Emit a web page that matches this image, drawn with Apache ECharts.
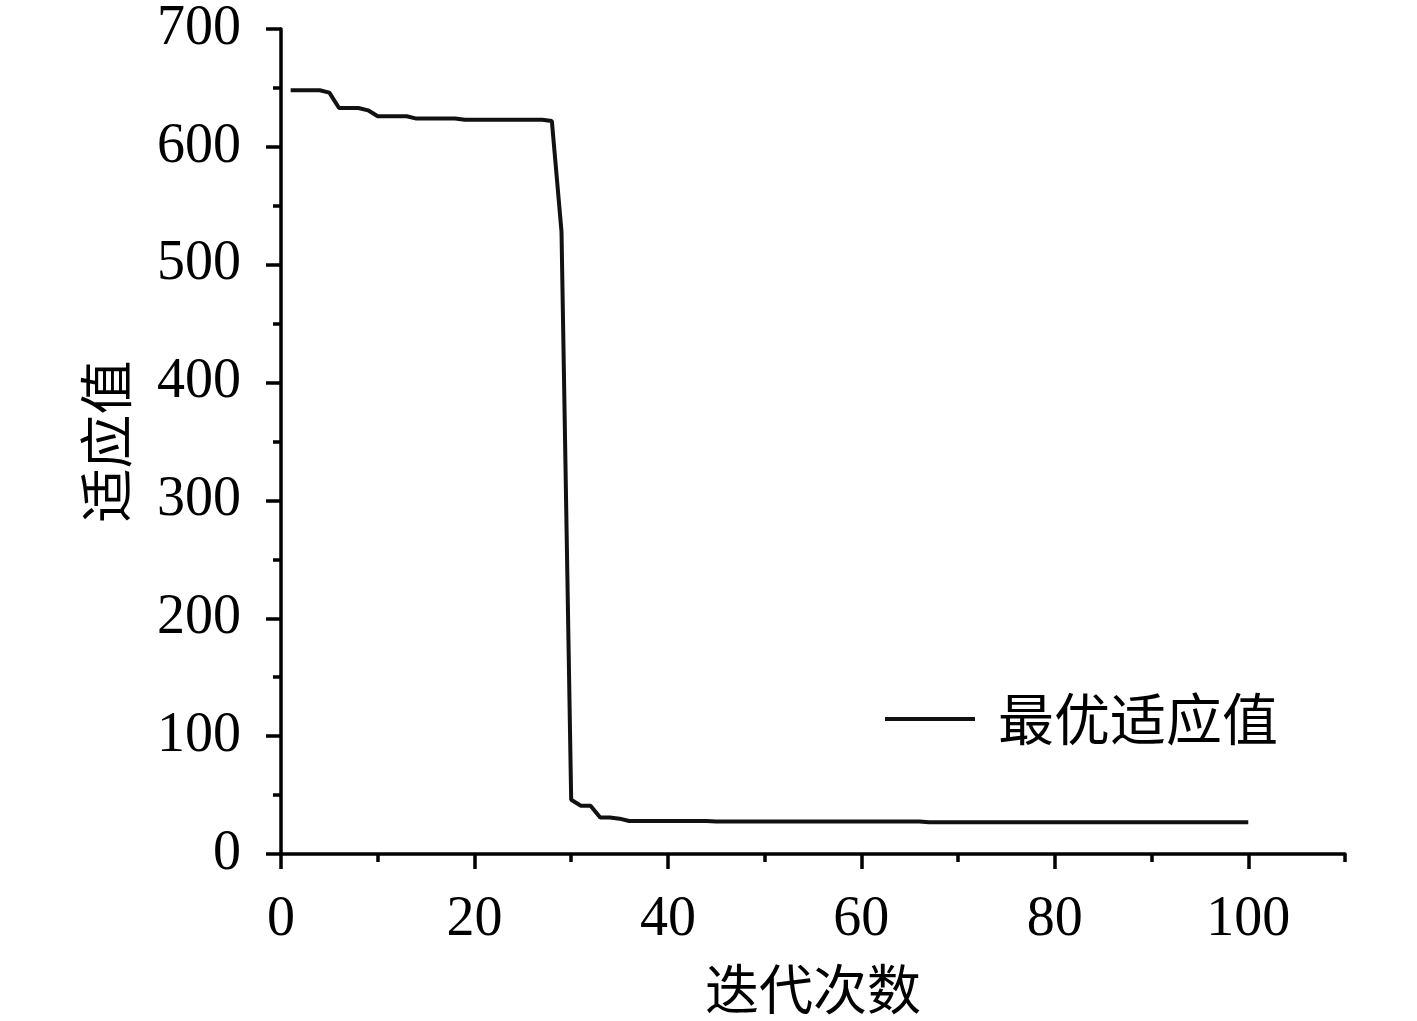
<!DOCTYPE html>
<html>
<head>
<meta charset="utf-8">
<script src="https://cdn.jsdelivr.net/npm/echarts@6/dist/echarts.min.js"></script>
<style>
  html, body { margin: 0; padding: 0; background: #fff; }
  #chart { width: 1417px; height: 1021px; }
</style>
</head>
<body>
<div id="chart"></div>
<script>
// 迭代次数 / 最优适应值
var iters = [];
for (var i = 1; i <= 100; i++) iters.push(i);
var best = [
  648, 648, 648, 648, 646, 633, 633, 633, 631, 626,
  626, 626, 626, 624, 624, 624, 624, 624, 623, 623,
  623, 623, 623, 623, 623, 623, 623, 622, 528, 46,
  41, 41, 31, 31, 30, 28, 28, 28, 28, 28,
  28, 28, 28, 28, 27.5, 27.5, 27.5, 27.5, 27.5, 27.5,
  27.5, 27.5, 27.5, 27.5, 27.5, 27.5, 27.5, 27.5, 27.5, 27.5,
  27.5, 27.5, 27.5, 27.5, 27.5, 27.5, 27, 27, 27, 27,
  27, 27, 27, 27, 27, 27, 27, 27, 27, 27,
  27, 27, 27, 27, 27, 27, 27, 27, 27, 27,
  27, 27, 27, 27, 27, 27, 27, 27, 27, 27
];
var xMajor = [0, 20, 40, 60, 80, 100];
var xMinor = [10, 30, 50, 70, 90, 110];
var yMajor = [0, 100, 200, 300, 400, 500, 600, 700];
var yMinor = [50, 150, 250, 350, 450, 550, 650];

var serif = "'Liberation Serif', 'Times New Roman', 'Noto Sans CJK SC', serif";
var cjk = "'Noto Sans CJK SC', serif";
var black = "#000";

var chart = echarts.init(document.getElementById("chart"));
var points = iters.map(function (x, k) { return [x, best[k]]; });

chart.setOption({
  animation: false,
  grid: { left: 281, right: 72, top: 29, bottom: 166, containLabel: false },
  legend: {
    data: [{ name: "最优适应值", icon: "rect" }],
    left: 880,
    top: 686,
    itemWidth: 90,
    itemHeight: 4,
    itemStyle: { color: "#111" },
    textStyle: { fontFamily: cjk, fontSize: 56, color: black, padding: [0, 0, 0, 18] }
  },
  xAxis: [
    {
      type: "value", min: 0, max: 110,
      name: "迭代次数", nameLocation: "middle", nameGap: 108,
      nameTextStyle: { fontFamily: cjk, fontSize: 54, color: black },
      axisLine: { show: true, lineStyle: { color: black, width: 3.5 } },
      axisTick: { show: true, customValues: xMajor, length: 15, lineStyle: { color: black, width: 3.5 } },
      axisLabel: { customValues: xMajor, fontFamily: serif, fontSize: 56, color: black, margin: 38 },
      splitLine: { show: false }
    },
    {
      type: "value", min: 0, max: 110, position: "bottom",
      axisLine: { show: false },
      axisTick: { show: true, customValues: xMinor, length: 8, lineStyle: { color: black, width: 3.5 } },
      axisLabel: { show: false },
      splitLine: { show: false }
    }
  ],
  yAxis: [
    {
      type: "value", min: 0, max: 700,
      name: "适应值", nameLocation: "middle", nameGap: 148, nameRotate: 90,
      nameTextStyle: { fontFamily: cjk, fontSize: 54, color: black },
      axisLine: { show: true, lineStyle: { color: black, width: 3.5 } },
      axisTick: { show: true, customValues: yMajor, length: 15, lineStyle: { color: black, width: 3.5 } },
      axisLabel: { customValues: yMajor, fontFamily: serif, fontSize: 56, color: black, margin: 40 },
      splitLine: { show: false }
    },
    {
      type: "value", min: 0, max: 700, position: "left",
      axisLine: { show: false },
      axisTick: { show: true, customValues: yMinor, length: 8, lineStyle: { color: black, width: 3.5 } },
      axisLabel: { show: false },
      splitLine: { show: false }
    }
  ],
  series: [
    {
      name: "最优适应值",
      type: "line",
      xAxisIndex: 0,
      yAxisIndex: 0,
      symbol: "none",
      data: points,
      lineStyle: { color: "#111", width: 4 },
      itemStyle: { color: "#111" }
    }
  ]
});
</script>
</body>
</html>
